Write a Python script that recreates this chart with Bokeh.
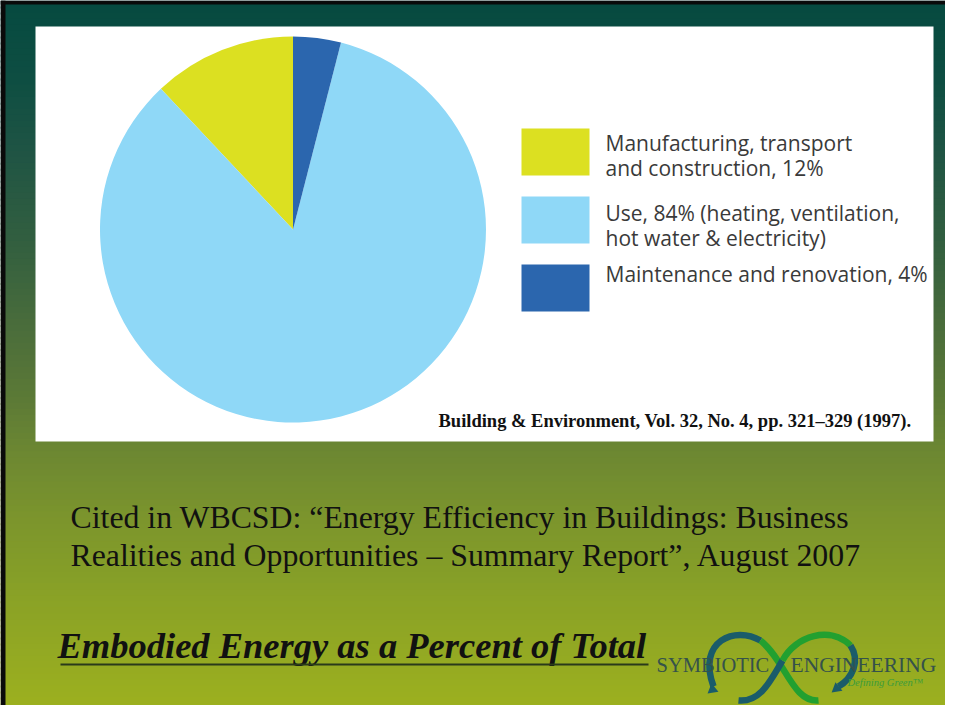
import numpy as np
from bokeh.plotting import figure
from bokeh.models import Range1d
from bokeh.core.properties import value
from bokeh.embed import file_html
from bokeh.resources import INLINE

# ---------------- data ----------------
categories = ["Manufacturing, transport and construction", "Use", "Maintenance and renovation"]
percent = [12, 84, 4]
slice_colors = ["#dce021", "#8fd8f7", "#2b66ae"]
legend_lines = [
    ["Manufacturing, transport", "and construction, 12%"],
    ["Use, 84% (heating, ventilation,", "hot water & electricity)"],
    ["Maintenance and renovation, 4%"],
]
source_text = "Building & Environment, Vol. 32, No. 4, pp. 321\u2013329 (1997)."
cited_lines = [
    "Cited in WBCSD: \u201cEnergy Efficiency in Buildings: Business",
    "Realities and Opportunities \u2013 Summary Report\u201d, August 2007",
]
title_text = "Embodied Energy as a Percent of Total"

# ---------------- layout (reference pixel space, 1:1) ----------------
FW, FH = 945, 705
H = 721
def Y(y):
    return H - y

p = figure(width=FW, height=FH, x_range=Range1d(0, FW), y_range=Range1d(H - FH, H),
           toolbar_location=None, output_backend="svg", min_border=0)
p.axis.visible = False
p.grid.visible = False
p.outline_line_color = None

# background gradient (vertical)
stops_y = [0, 80, 150, 250, 330, 400, 450, 520, 600, 721]
stops_c = ["#064a40", "#0e4e42", "#1f5444", "#34603f", "#4b6d3b", "#5c7a36",
           "#6c8732", "#7c952c", "#8aa226", "#9eb21e"]
def hex2rgb(h):
    return np.array([int(h[i:i + 2], 16) for i in (1, 3, 5)], dtype=float)
rgbs = np.array([hex2rgb(c) for c in stops_c])
nb = 120
edges = np.linspace(0, H, nb + 1)
mids = (edges[:-1] + edges[1:]) / 2
band_cols = []
for m in mids:
    r = [np.interp(m, stops_y, rgbs[:, k]) for k in range(3)]
    band_cols.append("#%02x%02x%02x" % tuple(int(round(v)) for v in r))
p.quad(left=0, right=FW, top=[Y(e) for e in edges[:-1]], bottom=[Y(e) - 2.0 for e in edges[1:]],
       fill_color=band_cols, line_color=None)

# slide black frame (left, top)
p.quad(left=[0, 0], right=[5, FW], top=[H, H], bottom=[0, Y(4)],
       fill_color="#0a0a0a", line_color=None)

# white panel
p.quad(left=35, right=933, top=Y(26), bottom=Y(441), fill_color="white", line_color=None)

# pie
frac = np.array(percent, dtype=float) / sum(percent)
ends = np.pi / 2 + 2 * np.pi * np.cumsum(frac)
starts = ends - 2 * np.pi * frac
p.wedge(x=292.5, y=Y(229), radius=193, radius_units="screen",
        start_angle=list(starts), end_angle=list(ends),
        fill_color=slice_colors, line_color=None)

# legend
box_top = [128, 196, 264]
box_h = 47
p.quad(left=521, right=589, top=[Y(t) for t in box_top], bottom=[Y(t + box_h) for t in box_top],
       fill_color=slice_colors, line_color=None)
lx, ly, lt = [], [], []
line_y0 = [142, 212, 273]
for yy, lines in zip(line_y0, legend_lines):
    for k, s in enumerate(lines):
        lx.append(605); ly.append(Y(yy + 25 * k)); lt.append(s)
p.text(x=lx, y=ly, text=lt, text_font=value("Open Sans"), text_font_size=value("21px"),
       text_color="#3a3a3a", text_baseline="middle", text_align="left")

# source
p.text(x=[438], y=[Y(420)], text=[source_text], text_font=value("Liberation Serif"),
       text_font_size=value("18.5px"), text_font_style="bold", text_color="#111111",
       text_baseline="middle", text_align="left")

# cited
p.text(x=[70, 70], y=[Y(517), Y(555)], text=cited_lines, text_font=value("Liberation Serif"),
       text_font_size=value("31.8px"), text_color="#111111", text_baseline="middle", text_align="left")

# title
p.text(x=[57], y=[Y(645)], text=[title_text], text_font=value("Liberation Serif"),
       text_font_size=value("36.5px"), text_font_style="bold italic", text_color="#111111",
       text_baseline="middle", text_align="left")
p.segment(x0=[60], y0=[Y(664)], x1=[648], y1=[Y(664)], line_color="#2a3a1a", line_width=2)

# logo
teal, green = "#1a5c6a", "#22a030"
p.bezier(x0=[713, 760, 738, 782, 850], y0=[Y(686), Y(640), Y(700), Y(660), Y(645)],
         x1=[760, 818, 782, 850, 838], y1=[Y(640), Y(700), Y(660), Y(645), Y(686)],
         cx0=[696, 785, 760, 795, 860], cy0=[Y(640), Y(660), Y(702), Y(635), Y(660)],
         cx1=[735, 792, 770, 830, 852], cy1=[Y(625), Y(702), Y(680), Y(625), Y(678)],
         line_color=[teal, green, teal, green, teal], line_width=6.5)
p.scatter(x=[712, 836], y=[Y(689), Y(688)], marker="triangle", size=11,
          angle=[0.15, np.pi * 0.72], fill_color=[teal, teal], line_color=None)
p.text(x=[656], y=[Y(664)], text=["SYMBIOTIC"],
       text_font=value("Liberation Serif"), text_font_size=value("20.5px"),
       text_color="#35524a", text_baseline="middle", text_align="left")
p.text(x=[790], y=[Y(664)], text=["ENGINEERING"],
       text_font=value("Liberation Serif"), text_font_size=value("21.5px"),
       text_color="#35524a", text_baseline="middle", text_align="left")
p.text(x=[847], y=[Y(682)], text=["Defining Green\u2122"], text_font=value("Liberation Serif"),
       text_font_size=value("10.5px"), text_font_style="italic", text_color="#3c9c3c",
       text_baseline="middle", text_align="left")

open("out.html", "w").write(file_html(p, INLINE))
